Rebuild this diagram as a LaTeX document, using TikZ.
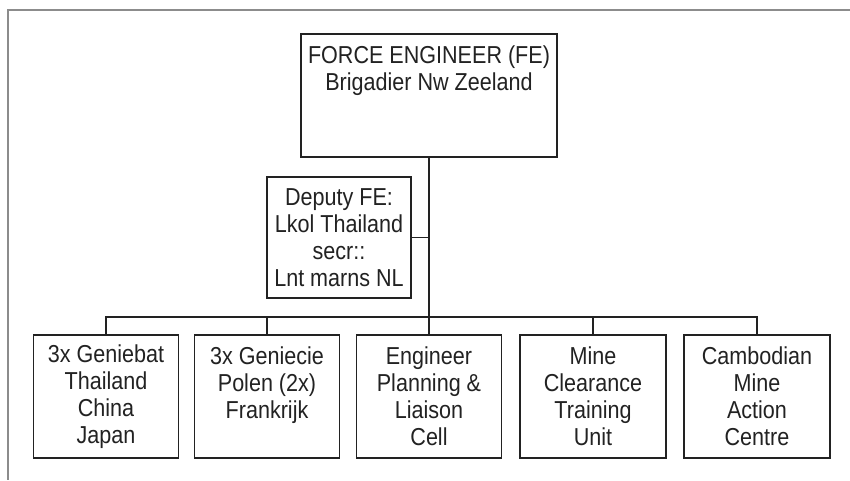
\documentclass[tikz,border=0pt]{standalone}
\usepackage{fontspec}
\setmainfont{Liberation Sans}[FakeStretch=0.88]
\definecolor{ink}{HTML}{222222}
\definecolor{frame}{HTML}{8C8C8C}
\begin{document}
\begin{tikzpicture}[x=1pt,y=-1pt,
  every node/.style={font=\fontsize{24.5pt}{27pt}\selectfont, text=ink},
  orgbox/.style={draw=ink, line width=1.3pt, align=center, inner sep=0pt,
    minimum width=145pt, minimum height=123pt},
  link/.style={draw=ink, line width=1.3pt}]
\useasboundingbox (0,0) rectangle (850,480);
\fill[white] (0,0) rectangle (850,480);
% scan frame
\draw[frame, line width=1.6pt] (850,10) -- (8,10) -- (8,480);
% nodes
\node[orgbox, minimum width=256pt] (fe) at (429,95.5)
  {FORCE ENGINEER (FE)\\Brigadier Nw Zeeland\\~\\~};
\node[orgbox, minimum width=144pt, minimum height=121pt] (dep) at (339,237.5)
  {Deputy FE:\\Lkol Thailand\\secr::\\Lnt marns NL};
\node[orgbox] (b1) at (106,396.5) {3x Geniebat\\Thailand\\China\\Japan};
\node[orgbox] (b2) at (267,396.5) {3x Geniecie\\Polen (2x)\\Frankrijk\\~};
\node[orgbox] (b3) at (429,396.5) {Engineer\\Planning \&\\Liaison\\Cell};
\node[orgbox, minimum width=146pt] (b4) at (593,396.5) {Mine\\Clearance\\Training\\Unit};
\node[orgbox, minimum width=146pt] (b5) at (757,396.5) {Cambodian\\Mine\\Action\\Centre};
% connectors
\coordinate (bus) at (429,317);
\draw[link] (fe.south) -- (b3.north);
\draw[link] (dep.east) -- (dep.east -| fe.south);
\draw[link] (b1.north) -- (b1.north |- bus) -- (b5.north |- bus) -- (b5.north);
\draw[link] (b2.north) -- (b2.north |- bus);
\draw[link] (b4.north) -- (b4.north |- bus);
\end{tikzpicture}
\end{document}
